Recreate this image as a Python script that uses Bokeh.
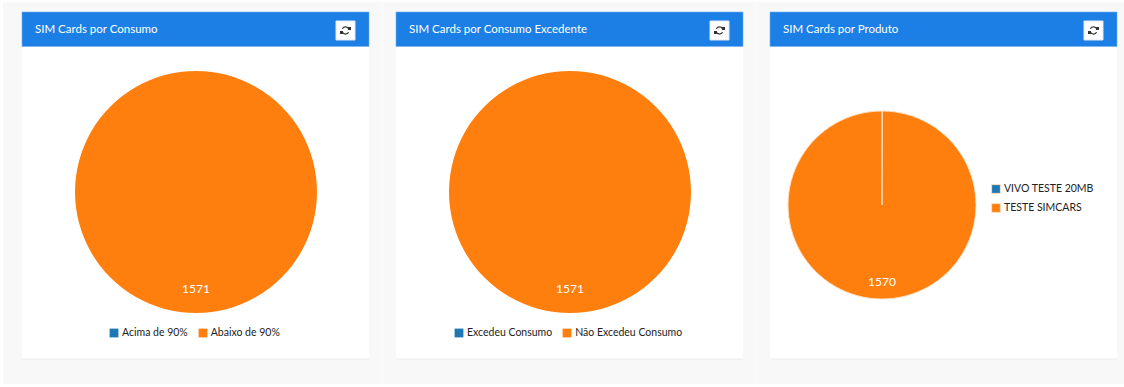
import math
from bokeh.plotting import figure
from bokeh.layouts import row
from bokeh.models import Legend, LegendItem, Range1d, ColumnDataSource
from bokeh.core.properties import value
from bokeh.embed import file_html
from bokeh.resources import INLINE

titles = ["SIM Cards por Consumo", "SIM Cards por Consumo Excedente", "SIM Cards por Produto"]
labels_1 = ["Acima de 90%", "Abaixo de 90%"]
values_1 = [0, 1571]
labels_2 = ["Excedeu Consumo", "Não Excedeu Consumo"]
values_2 = [0, 1571]
labels_3 = ["VIVO TESTE 20MB", "TESTE SIMCARS"]
values_3 = [1, 1570]
colors = ["#1f77b4", "#ff7f0e"]

BG = "#f8f8f8"
HEAD = "#1c7fe6"
FONT = value("Lato")
H = 387
SHIFT = 0.5


def panel(x0, x1, card_x0, title, labels, values, cx, cy, r, label_y,
          legend_loc, orientation):
    w = x1 - x0
    p = figure(width=w, height=H, x_range=Range1d(x0 + SHIFT, x1 + SHIFT),
               y_range=Range1d(H + SHIFT, SHIFT),
               x_axis_type=None, y_axis_type=None, toolbar_location=None,
               output_backend="svg", min_border=0, outline_line_color=None,
               background_fill_color="white", border_fill_color="white")
    p.grid.visible = False
    # page background
    p.quad(left=[max(x0, 3)], right=[x1 + 2], top=[2], bottom=[384],
           fill_color=BG, line_color=None)
    card_x1 = card_x0 + 347
    # card and header
    p.quad(left=[card_x0], right=[card_x1], top=[12], bottom=[359.5],
           fill_color="#ececec", line_color=None)
    p.quad(left=[card_x0], right=[card_x1], top=[12], bottom=[358.5],
           fill_color="white", line_color=None)
    p.quad(left=[card_x0], right=[card_x1], top=[12], bottom=[46.5],
           fill_color=HEAD, line_color="#74b0ef", line_width=0.6)
    p.text(x=[card_x0 + 13], y=[28.5], text=[title], text_color="white",
           text_font=FONT, text_font_size="11.5px", text_baseline="middle")
    # refresh button
    bx = card_x0 + 323.5
    by = 30.5
    p.quad(left=[bx - 9.5], right=[bx + 9.5], top=[by - 9.5], bottom=[by + 9.5],
           fill_color="white", line_color="#dfe6ee", line_width=1)
    p.arc(x=[bx, bx], y=[by, by], radius=[3.6, 3.6],
          start_angle=[math.radians(30), math.radians(210)],
          end_angle=[math.radians(150), math.radians(330)],
          line_color="#333333", line_width=1.3)
    p.scatter(x=[bx + 4.0, bx - 4.0], y=[by - 2.0, by + 2.0], size=3, marker="square",
              fill_color="#333333", line_color=None)
    # pie
    total = sum(values)
    start, end, shown = [], [], []
    acc = 0
    for v in values:
        a0 = math.pi / 2 - 2 * math.pi * acc / total
        acc += v
        a1 = math.pi / 2 - 2 * math.pi * acc / total
        if v == total:
            a1 += 1e-4  # a sweep of exactly one turn would draw nothing
        start.append(a0)
        end.append(a1)
        shown.append(0.0 if v == 0 or v == total else 1.0)
    items = []
    for i, lab in enumerate(labels):
        src = ColumnDataSource(dict(x=[cx], y=[cy], s=[start[i]], e=[end[i]], la=[shown[i]]))
        if values[i] == 0:
            # empty slice: present only for its legend key
            g = p.wedge(x="x", y="y", radius=0, start_angle="s", end_angle="e", direction="clock",
                        source=src, fill_color=colors[i], line_color=None)
        else:
            g = p.wedge(x="x", y="y", radius=r, start_angle="s", end_angle="e", direction="clock",
                        source=src, fill_color=colors[i], line_color="#fbdfc4", line_alpha="la",
                        line_width=1)
        items.append(LegendItem(label=lab, renderers=[g]))
    p.text(x=[cx], y=[label_y + 0.5], text=[str(max(values))], text_color="white", text_font=FONT,
           text_font_size="12px", text_align="center", text_baseline="middle")
    leg = Legend(items=items, orientation=orientation, location=legend_loc,
                 glyph_width=11, glyph_height=11, label_standoff=3,
                 spacing=9 if orientation == "horizontal" else 7,
                 padding=0, margin=0, border_line_color=None, background_fill_alpha=0,
                 label_text_font="Lato", label_text_font_size="10.5px", label_text_color="#222222",
                 label_height=9, label_width=1)
    p.add_layout(leg, "center")
    return p


p1 = panel(0, 382, 22, titles[0], labels_1, values_1, 196, 192, 121, 288, (108, 49), "horizontal")
p2 = panel(382, 756, 396, titles[1], labels_2, values_2, 570, 192, 121, 288, (71, 49), "horizontal")
p3 = panel(756, 1124, 770, titles[2], labels_3, values_3, 882, 205, 94, 281, (234, 174), "vertical")

layout = row(p1, p2, p3, spacing=0)
open("out.html", "w").write(file_html(layout, INLINE))
